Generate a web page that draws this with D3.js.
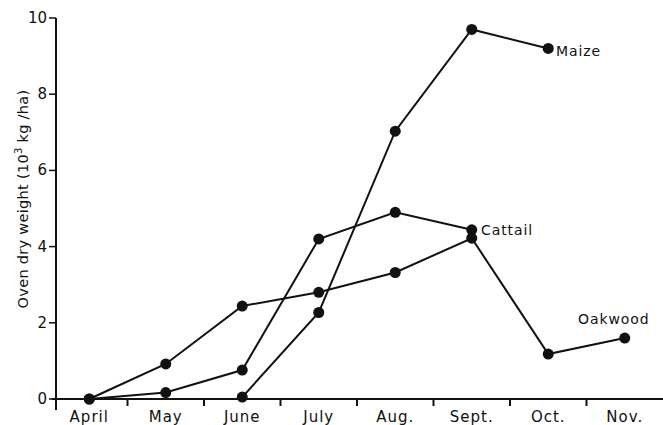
<!DOCTYPE html>
<html>
<head>
<meta charset="utf-8">
<script src="https://cdn.jsdelivr.net/npm/d3@7"></script>
<style>
  body { margin: 0; background: #fff; }
  text { font-family: "DejaVu Sans", sans-serif; fill: #111; }
</style>
</head>
<body>
<svg id="chart" width="663" height="425"></svg>
<script>
// Months on the x axis
const months = ["April", "May", "June", "July", "Aug.", "Sept.", "Oct.", "Nov."];
const yTicks = [0, 2, 4, 6, 8, 10];

// Oven dry weight, 10^3 kg/ha
const maize = [null, null, 0.05, 2.27, 7.03, 9.7, 9.2, null];
const cattail = [0, 0.17, 0.76, 4.2, 4.9, 4.44, null, null];
const oakwood = [0, 0.92, 2.44, 2.8, 3.32, 4.22, 1.18, 1.6];

const seriesNames = ["Maize", "Cattail", "Oakwood"];
const seriesValues = [maize, cattail, oakwood];

const svg = d3.select("#chart");

const x = d3.scaleBand()
    .domain(months)
    .range([51, 663]);

const y = d3.scaleLinear()
    .domain([0, 10])
    .range([399, 18]);

const cx = m => x(m) + x.bandwidth() / 2;

// X axis: baseline with ticks between months
const xAxis = svg.append("g");
xAxis.append("line")
    .attr("x1", 52).attr("x2", 663)
    .attr("y1", y(0)).attr("y2", y(0))
    .attr("stroke", "#111").attr("stroke-width", 2);
xAxis.selectAll(".xtick")
    .data(months.slice(1))
    .enter().append("line")
    .attr("x1", d => x(d)).attr("x2", d => x(d))
    .attr("y1", y(0)).attr("y2", y(0) + 7)
    .attr("stroke", "#111").attr("stroke-width", 2);
xAxis.selectAll(".xlabel")
    .data(months)
    .enter().append("text")
    .attr("x", cx)
    .attr("y", 422)
    .attr("text-anchor", "middle")
    .attr("font-size", 15)
    .attr("letter-spacing", 1)
    .text(d => d);

// Y axis
const yAxis = svg.append("g");
yAxis.append("line")
    .attr("x1", 56).attr("x2", 56)
    .attr("y1", y(10)).attr("y2", 410)
    .attr("stroke", "#111").attr("stroke-width", 2);
yAxis.selectAll(".ytick")
    .data(yTicks)
    .enter().append("line")
    .attr("x1", 49).attr("x2", 56)
    .attr("y1", d => y(d)).attr("y2", d => y(d))
    .attr("stroke", "#111").attr("stroke-width", 1.5);
yAxis.selectAll(".ylabel")
    .data(yTicks)
    .enter().append("text")
    .attr("x", 47)
    .attr("y", d => y(d) + 5)
    .attr("text-anchor", "end")
    .attr("font-size", 15)
    .text(d => d);

const yTitle = svg.append("text")
    .attr("transform", "translate(28,199) rotate(-90)")
    .attr("text-anchor", "middle")
    .attr("font-size", 14.5)
    .attr("letter-spacing", 0.3);
yTitle.append("tspan").text("Oven dry weight (10");
yTitle.append("tspan").attr("font-size", 10).attr("dy", -6).text("3");
yTitle.append("tspan").attr("dy", 6).text(" kg /ha)");

// Lines and markers
const line = d3.line()
    .defined(d => d.v !== null)
    .x(d => cx(d.m))
    .y(d => y(d.v));

seriesValues.forEach((vals, i) => {
    const pts = vals.map((v, j) => ({ m: months[j], v: v }));
    svg.append("path")
        .datum(pts)
        .attr("d", line)
        .attr("fill", "none")
        .attr("stroke", "#111")
        .attr("stroke-width", 2);
    svg.selectAll(".pt" + i)
        .data(pts.filter(d => d.v !== null))
        .enter().append("circle")
        .attr("cx", d => cx(d.m))
        .attr("cy", d => y(d.v))
        .attr("r", 5.5)
        .attr("fill", "#111");
});

// Series labels
const labels = [
    { name: seriesNames[0], x: 556, y: 56 },
    { name: seriesNames[1], x: 481, y: 235 },
    { name: seriesNames[2], x: 578, y: 324 }
];
svg.selectAll(".slabel")
    .data(labels)
    .enter().append("text")
    .attr("x", d => d.x)
    .attr("y", d => d.y)
    .attr("font-size", 14)
    .attr("letter-spacing", 0.9)
    .text(d => d.name);
</script>
</body>
</html>
